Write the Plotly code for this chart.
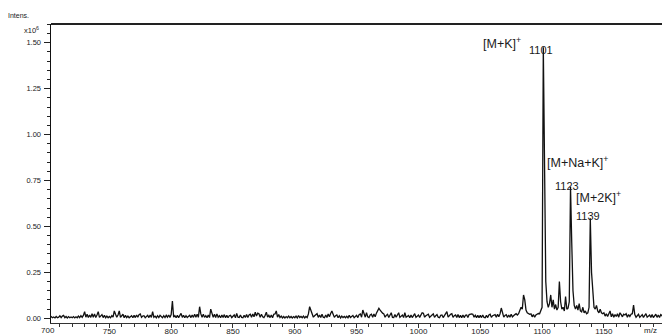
import plotly.graph_objects as go

# m/z sampling grid (one point per unit, 700 .. 1199)
mz_start = 700
# intensities in thousands of counts, rows of ten values (700-709, 710-719, ...)
intensity_k = [
    3, 8, 2, 9, 3, 7, 2, 10, 3, 6,
    14, 4, 12, 16, 3, 10, 2, 9, 3, 7,
    3, 9, 2, 8, 3, 12, 4, 14, 5, 16,
    36, 6, 22, 4, 18, 5, 25, 6, 24, 4,
    18, 36, 5, 14, 20, 4, 16, 3, 12, 3,
    10, 3, 14, 6, 40, 22, 6, 18, 40, 5,
    14, 22, 3, 16, 4, 12, 3, 10, 14, 3,
    16, 4, 18, 6, 20, 24, 5, 12, 14, 3,
    12, 16, 4, 18, 5, 36, 6, 12, 3, 14,
    4, 16, 10, 3, 14, 4, 16, 6, 18, 5,
    20, 94, 6, 14, 3, 16, 4, 14, 27, 5,
    16, 3, 14, 4, 12, 16, 4, 18, 5, 22,
    6, 22, 5, 63, 24, 6, 22, 5, 14, 3,
    18, 4, 50, 20, 5, 22, 4, 24, 6, 14,
    3, 18, 5, 20, 3, 16, 3, 14, 16, 4,
    14, 18, 3, 27, 6, 4, 18, 5, 3, 16,
    5, 20, 4, 18, 22, 6, 24, 8, 33, 12,
    28, 25, 5, 22, 8, 4, 16, 33, 6, 16,
    4, 18, 3, 22, 24, 40, 6, 20, 4, 12,
    2, 10, 2, 9, 3, 12, 3, 10, 2, 9,
    3, 12, 2, 15, 4, 10, 3, 12, 2, 10,
    4, 24, 63, 40, 26, 6, 14, 20, 25, 5,
    18, 4, 22, 6, 3, 18, 4, 24, 8, 26,
    40, 22, 5, 14, 18, 3, 14, 2, 12, 4,
    10, 3, 11, 3, 16, 4, 10, 15, 3, 12,
    16, 4, 20, 24, 6, 45, 24, 6, 30, 8,
    4, 18, 22, 5, 24, 8, 28, 40, 54, 44,
    35, 28, 24, 6, 16, 22, 4, 18, 30, 5,
    4, 20, 6, 18, 30, 5, 14, 18, 4, 30,
    6, 14, 16, 3, 18, 4, 16, 25, 5, 14,
    18, 5, 20, 30, 28, 6, 14, 18, 22, 5,
    14, 18, 24, 5, 14, 20, 6, 3, 16, 18,
    4, 16, 20, 36, 6, 16, 22, 25, 5, 14,
    18, 5, 20, 4, 16, 3, 18, 4, 16, 18,
    4, 20, 24, 24, 22, 6, 16, 4, 16, 3,
    16, 4, 18, 5, 3, 16, 4, 18, 22, 5,
    14, 18, 20, 6, 22, 8, 24, 56, 22, 6,
    16, 20, 4, 18, 6, 22, 8, 16, 20, 25,
    18, 25, 40, 60, 50, 127, 100, 45, 30, 25,
    22, 24, 8, 20, 6, 18, 22, 26, 25, 40,
    60, 1475, 725, 200, 90, 60, 80, 127, 60, 100,
    50, 75, 45, 60, 200, 90, 50, 60, 40, 118,
    50, 55, 90, 716, 410, 150, 70, 50, 70, 45,
    80, 40, 35, 60, 30, 40, 25, 30, 60, 544,
    250, 120, 60, 50, 70, 40, 30, 50, 30, 25,
    30, 12, 25, 10, 22, 40, 8, 25, 6, 20,
    10, 25, 6, 30, 20, 8, 22, 18, 25, 6,
    20, 10, 22, 25, 72, 20, 6, 18, 22, 5,
    16, 20, 5, 18, 25, 6, 14, 18, 5, 20,
    4, 16, 22, 5, 18, 4, 20, 14, 3, 16,
]
mz = list(range(mz_start, mz_start + len(intensity_k)))
intensity = [v / 1000.0 for v in intensity_k]   # in units of 10^6

x_ticks = [750, 800, 850, 900, 950, 1000, 1050, 1100, 1150]
y_ticks = [0.0, 0.25, 0.5, 0.75, 1.0, 1.25, 1.5]
y_tick_text = ["0.00", "0.25", "0.50", "0.75", "1.00", "1.25", "1.50"]

peak_labels = [
    ("[M+K]<sup>+</sup>", 1101),
    ("[M+Na+K]<sup>+</sup>", 1123),
    ("[M+2K]<sup>+</sup>", 1139),
]

W, H = 662, 335
ML, MR, MT, MB = 51, 0, 24, 12
PW, PH = W - ML - MR, H - MT - MB


def px(xp):
    return (xp - ML) / PW


def py(yp):
    return (H - MB - yp) / PH


FONT = "Liberation Sans, Arial, Helvetica, sans-serif"
TXT = "#1a1a1a"

fig = go.Figure()
fig.add_trace(go.Scatter(
    x=mz, y=intensity, mode="lines",
    line=dict(color="#111111", width=1.3),
    hoverinfo="skip", showlegend=False,
))

fig.update_layout(
    template="none",
    width=W, height=H,
    margin=dict(l=ML, r=MR, t=MT, b=MB, pad=0, autoexpand=False),
    paper_bgcolor="white", plot_bgcolor="white",
    font=dict(family=FONT, color=TXT, size=8),
    xaxis=dict(
        range=[702.8, 1197.0],
        tickvals=x_ticks, ticktext=[str(v) for v in x_ticks],
        ticks="outside", ticklen=4, tickwidth=1, tickcolor="#333",
        minor=dict(dtick=10, ticks="outside", ticklen=2.5, tickcolor="#333", tickwidth=1),
        showline=True, linecolor="#333", linewidth=1,
        showgrid=False, zeroline=False, automargin=False,
        ticklabelstandoff=-4,
        tickfont=dict(size=8, family=FONT, color=TXT),
    ),
    yaxis=dict(
        range=[-0.0256, 1.6018],
        tickvals=y_ticks, ticktext=y_tick_text,
        ticks="outside", ticklen=6, tickwidth=1, tickcolor="#222",
        minor=dict(dtick=0.05, tick0=0, ticks="outside", ticklen=3, tickcolor="#222", tickwidth=1),
        showline=True, linecolor="#111", linewidth=1.5,
        showgrid=False, zeroline=False, automargin=False,
        ticklabelstandoff=1,
        tickfont=dict(size=7.5, family=FONT, color=TXT),
    ),
)

# top frame line
fig.add_shape(type="line", xref="paper", yref="paper", x0=0, x1=1, y0=1, y1=1,
              line=dict(color="#222", width=2))

ann = []
ann.append(dict(text="Intens.", x=px(18), y=py(15.5), xanchor="center", yanchor="middle",
                font=dict(size=7)))
ann.append(dict(text="x10<sup>6</sup>", x=px(41), y=py(30.5), xanchor="right", yanchor="middle",
                font=dict(size=7.5)))
ann.append(dict(text="m/z", x=px(650), y=py(330), xanchor="center", yanchor="middle",
                font=dict(size=8)))
ann.append(dict(text="700", x=px(47.5), y=py(330), xanchor="center", yanchor="middle",
                font=dict(size=8)))

# peak annotations: (label centre px, number centre px)
label_pos = {
    1101: ((502, 43), (540.5, 49.5)),
    1123: ((577, 162), (567, 186)),
    1139: ((598, 197), (587.5, 216)),
}
for text, m in peak_labels:
    (lx, ly), (nx, ny) = label_pos[m]
    ann.append(dict(text=text, x=px(lx), y=py(ly), xanchor="center", yanchor="middle",
                    font=dict(size=12.5)))
    ann.append(dict(text=str(m), x=px(nx), y=py(ny), xanchor="center", yanchor="middle",
                    font=dict(size=11)))

for a in ann:
    a.setdefault("xref", "paper")
    a["yref"] = "paper"
    a["showarrow"] = False
    a["font"]["family"] = FONT
    a["font"]["color"] = TXT
fig.update_layout(annotations=ann)

fig.write_html(
    "out.html",
    config={"displayModeBar": False, "staticPlot": True},
    post_script="document.body.style.margin='0';document.body.style.overflow='hidden';",
)
